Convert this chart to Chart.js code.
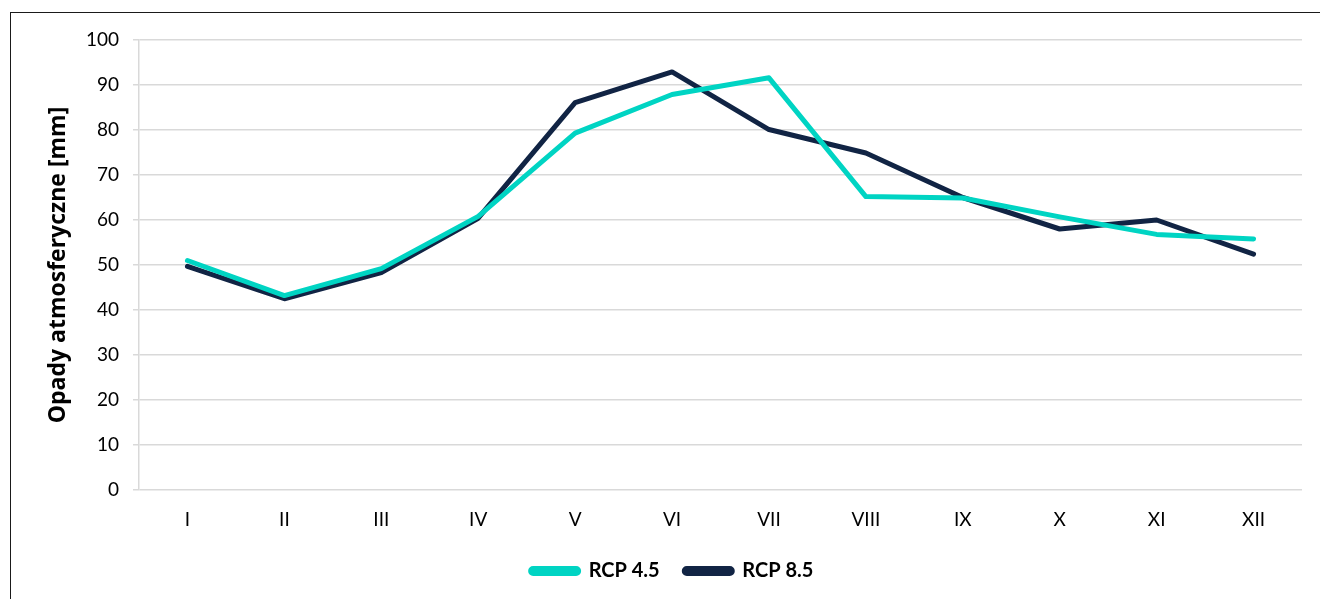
<!DOCTYPE html>
<html>
<head>
<meta charset="utf-8">
<script src="https://cdn.jsdelivr.net/npm/chart.js@4.4.1/dist/chart.umd.min.js"></script>
<style>
  html, body { margin: 0; padding: 0; background: #fff; }
  #frame {
    position: absolute; left: 10px; top: 12px;
    width: 1320px; height: 600px;
    border: 1px solid #1a1a1a; box-sizing: border-box;
  }
  #wrap { position: absolute; left: 0; top: 0; width: 1320px; height: 599px; }
</style>
</head>
<body>
<div id="frame"></div>
<div id="wrap"><canvas id="chartOpady"></canvas></div>
<script>
// === data ===
const months = ["I", "II", "III", "IV", "V", "VI", "VII", "VIII", "IX", "X", "XI", "XII"];
const rcp45 = [51.0, 43.2, 49.2, 60.8, 79.3, 87.9, 91.6, 65.2, 64.9, 60.7, 56.8, 55.8];
const rcp85 = [49.7, 42.5, 48.3, 60.4, 86.1, 92.9, 80.1, 74.9, 65.0, 58.0, 60.0, 52.4];
const yTicks = [0, 10, 20, 30, 40, 50, 60, 70, 80, 90, 100];

const FONT = "Lato, 'Open Sans', sans-serif";
const GRID = "#d9d9d9";

document.addEventListener("DOMContentLoaded", () => {
  new Chart(document.getElementById("chartOpady"), {
    type: "line",
    data: {
      labels: months,
      datasets: [
        {
          label: "RCP 4.5",
          data: rcp45,
          borderColor: "#00d4c3",
          backgroundColor: "#00d4c3",
          borderWidth: 5,
          pointRadius: 0,
          tension: 0,
          borderCapStyle: "round",
          borderJoinStyle: "round"
        },
        {
          label: "RCP 8.5",
          data: rcp85,
          borderColor: "#112444",
          backgroundColor: "#112444",
          borderWidth: 5,
          pointRadius: 0,
          tension: 0,
          borderCapStyle: "round",
          borderJoinStyle: "round"
        }
      ]
    },
    options: {
      responsive: true,
      maintainAspectRatio: false,
      animation: false,
      layout: { padding: { left: 42, right: 18, top: 40, bottom: 8 } },
      plugins: {
        tooltip: { enabled: false },
        legend: {
          position: "bottom",
          labels: {
            color: "#000",
            font: { family: FONT, size: 20, weight: "bold" },
            boxWidth: 48,
            boxHeight: 5,
            useBorderRadius: true,
            borderRadius: 2.5,
            padding: 10,
            // a bit more room between the two entries
            generateLabels: (chart) => {
              const items = Chart.defaults.plugins.legend.labels.generateLabels(chart);
              items.forEach((it, i) => { if (i < items.length - 1) it.text += "   "; });
              return items;
            }
          }
        }
      },
      scales: {
        x: {
          offset: true,
          grid: { display: false, drawTicks: false },
          border: { display: false },
          ticks: {
            color: "#000",
            font: { family: FONT, size: 19 },
            padding: 18,
            maxRotation: 0
          },
          afterFit: (s) => { s.height = 61; }
        },
        y: {
          min: 0,
          max: 100,
          afterBuildTicks: (s) => { s.ticks = yTicks.map(v => ({ value: v })); },
          grid: { color: GRID, lineWidth: 1.5, tickLength: 6 },
          border: { display: true, color: GRID, width: 1.5 },
          ticks: {
            color: "#000",
            font: { family: FONT, size: 19 },
            padding: 14
          },
          title: {
            display: true,
            text: "Opady atmosferyczne [mm]",
            color: "#000",
            font: { family: "'Open Sans', Lato, sans-serif", size: 23, weight: "bold" },
            padding: { top: 3, bottom: 0 }
          },
          afterFit: (s) => { s.width = 97; }
        }
      }
    }
  });
});
</script>
</body>
</html>
